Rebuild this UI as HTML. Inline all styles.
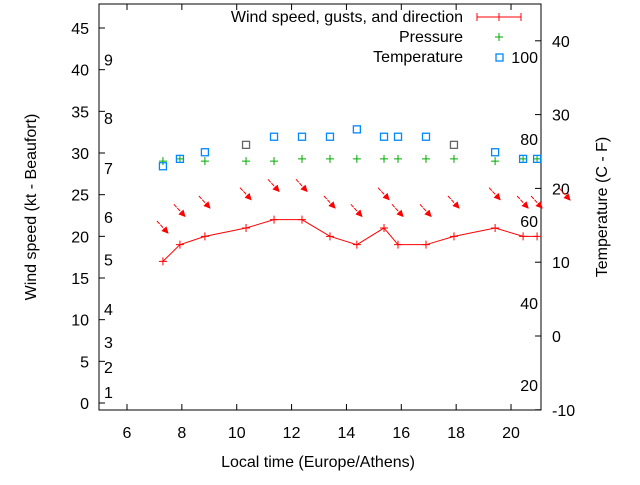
<!DOCTYPE html>
<html><head><meta charset="utf-8"><style>
body{margin:0;background:#fff}
svg text{font-family:"Liberation Sans",sans-serif;font-size:16px;fill:#000}
</style></head><body>
<svg id="c" width="640" height="480">
<defs><marker id="ah" markerWidth="7" markerHeight="7" refX="6" refY="3.5" orient="auto" markerUnits="userSpaceOnUse"><path d="M0,0 L7,3.5 L0,7z" fill="#f00"/></marker></defs>
</svg>
<script>
const hours=[7.31,7.93,8.84,10.34,11.36,12.38,13.40,14.38,15.37,15.88,16.90,17.92,19.42,20.44,20.95];
const wind=[17,19,20,21,22,22,20,19,21,19,19,20,21,20,20];
const gusts=[21,23,24,25,26,26,24,23,25,23,23,24,25,24,24];
const pressure=[23.7,24.0,23.7,23.7,23.7,24.0,24.0,24.0,24.0,24.0,24.0,24.0,23.7,24.0,24.0];
const temps=[23.0,24.0,24.9,25.9,27.0,27.0,27.0,28.0,27.0,27.0,27.0,25.9,24.9,24.0,24.0];
const xTicks=[6,8,10,12,14,16,18,20];
const yTicks=[0,5,10,15,20,25,30,35,40,45];
const y2Ticks=[-10,0,10,20,30,40];
const beaufort=[[1,1.3],[2,4.3],[3,7.3],[4,11.3],[5,17.2],[6,22.3],[7,28.2],[8,34.2],[9,41.2]];
const fahr=[20,40,60,80,100];
const L=99,R=541,T=4,B=410;
const X=h=>127+(h-6)*27.43, Y=v=>403-v*8.333, Y2=t=>336-t*7.38;
const svg=document.getElementById('c'),NS='http://www.w3.org/2000/svg';
function mk(tag,a,p){const e=document.createElementNS(NS,tag);for(const k in a)e.setAttribute(k,a[k]);(p||svg).appendChild(e);return e;}
function tx(s,x,y,anc,name,extra){const e=mk('text',Object.assign({x:x,y:y,'text-anchor':anc||'start'},extra||{}));e.textContent=s;

return e;}
const fr=mk('rect',{x:L,y:T,width:R-L,height:B-T,fill:'none',stroke:'#000'});


xTicks.forEach(h=>{const x=X(h);mk('line',{x1:x,x2:x,y1:B,y2:B-6,stroke:'#000'});mk('line',{x1:x,x2:x,y1:T,y2:T+6,stroke:'#000'});tx(String(h),x,438,'middle','x-tick-label');});
yTicks.forEach(v=>{const y=Y(v);mk('line',{x1:L,x2:L+6,y1:y,y2:y,stroke:'#000'});tx(String(v),89,y+6,'end','y-tick-label');});
y2Ticks.forEach(v=>{const y=Y2(v);mk('line',{x1:R,x2:R-6,y1:y,y2:y,stroke:'#000'});tx(String(v),552,y+6,'start','y2-tick-label');});
beaufort.forEach(b=>tx(String(b[0]),104,Y(b[1])+6,'start','beaufort-label'));
fahr.forEach(f=>tx(String(f),538,Y2((f-32)*5/9)+6,'end','fahrenheit-label'));
tx('Local time (Europe/Athens)',318,467,'middle','x-axis-title');
tx('Wind speed (kt - Beaufort)',36,207,'middle','y-axis-title',{transform:'rotate(-90 36 207)'});
tx('Temperature (C - F)',607,207,'middle','y2-axis-title',{transform:'rotate(-90 607 207)'});
const pl=mk('polyline',{points:hours.map((h,i)=>X(h)+','+Y(wind[i])).join(' '),fill:'none',stroke:'#f00'});


function plus(x,y,c){mk('path',{d:`M${x-4},${y}h8M${x},${y-4}v8`,stroke:c});}
hours.forEach((h,i)=>{plus(X(h),Y(wind[i]),'#f00');
const cx=X(h),cy=Y(gusts[i]);
const a=mk('line',{x1:cx-6,y1:cy-7,x2:cx+5,y2:cy+5,stroke:'#f00','stroke-dasharray':'4,1','marker-end':'url(#ah)'});


plus(X(h),Y2(pressure[i]),'#0a0');
const s=mk('rect',{x:X(h)-3.5,y:Y2(temps[i])-3.5,width:7,height:7,fill:'none',stroke:(i==3||i==11)?'#666':'#08f','stroke-width':1.3});

});
mk('line',{x1:559,y1:188,x2:570,y2:200,stroke:'#f00','stroke-dasharray':'4,1','marker-end':'url(#ah)'});
tx('Wind speed, gusts, and direction',463,22,'end','legend-wind');
mk('path',{d:'M477,17h44M477,13v8M521,13v8M499,13v8',stroke:'#f00'});
tx('Pressure',463,42,'end','legend-pressure');plus(499,37,'#0a0');
tx('Temperature',463,62,'end','legend-temperature');
mk('rect',{x:496,y:54,width:7,height:7,fill:'none',stroke:'#08f','stroke-width':1.3});
</script>
</body></html>
